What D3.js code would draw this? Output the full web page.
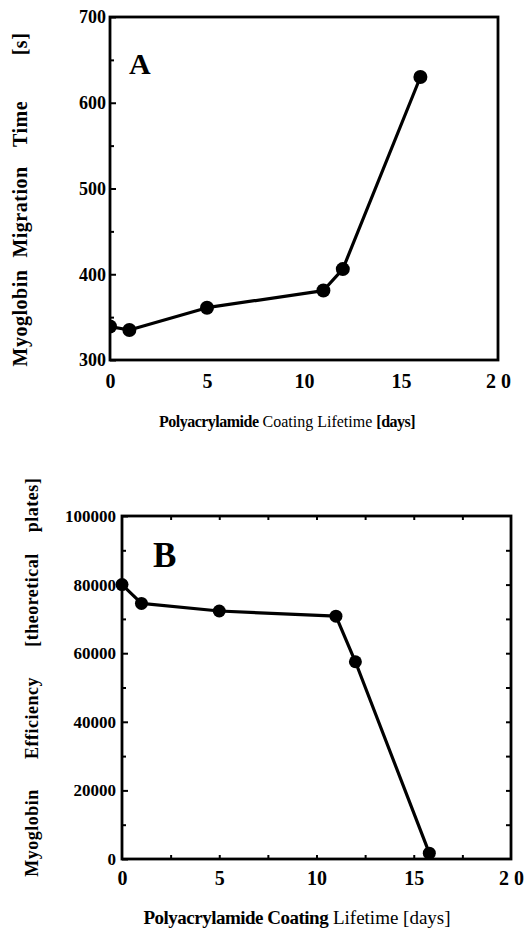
<!DOCTYPE html>
<html>
<head>
<meta charset="utf-8">
<script src="https://cdn.jsdelivr.net/npm/d3@7"></script>
<style>
  body { margin: 0; background: #fff; }
  svg { display: block; font-family: "Liberation Serif", "DejaVu Serif", serif; }
</style>
</head>
<body>
<div id="chart"></div>
<script>
// DATA
const daysA = [0, 1, 5, 11, 12, 16];
const timeA = [339, 335, 361, 381, 406, 630];
const daysB = [0, 1, 5, 11, 12, 15.8];
const effB = [80000, 74500, 72300, 70800, 57500, 1700];

const xTicks = [0, 5, 10, 15, 20];
const xTickLabels = ["0", "5", "10", "15", "2 0"];
const yTicksA = [300, 400, 500, 600, 700];
const yTicksB = [0, 20000, 40000, 60000, 80000, 100000];

// axis titles, one entry per printed word
const yTitleA = ["Myoglobin", "Migration", "Time", "[s]"];
const yTitleB = ["Myoglobin", "Efficiency", "[theoretical", "plates]"];

let width = 528;
let height = 930;

let svg = d3.select("#chart")
    .append("svg")
    .attr("width", width)
    .attr("height", height);

function tickGroup(g, axis, tr, len) {
    g.append("g")
        .attr("transform", tr)
        .call(axis.tickSize(len).tickFormat(""))
        .call(a => a.select(".domain").remove())
        .selectAll("line").attr("stroke-width", 2);
}

// DRAW ONE PANEL
function drawPanel(p) {
    let x = d3.scaleLinear().domain([0, 20]).range([p.left, p.right]);
    let y = d3.scaleLinear().domain(p.yDomain).range([p.bottom, p.top]);
    let g = svg.append("g");

    // clip for the data (panel A's first point is cut by the frame)
    let clipId = "clip" + p.letter;
    svg.append("clipPath").attr("id", clipId)
        .append("rect")
        .attr("x", p.clip ? p.left : 0).attr("y", 0)
        .attr("width", p.clip ? p.right - p.left : width).attr("height", height);

    // inward ticks
    tickGroup(g, d3.axisRight(y).tickValues(p.yTicks), "translate(" + p.left + ",0)", 6);
    tickGroup(g, d3.axisRight(y).tickValues(p.leftMinor), "translate(" + p.left + ",0)", 4);
    if (p.rightMinor) {
        tickGroup(g, d3.axisLeft(y).tickValues(p.rightMinor), "translate(" + p.right + ",0)", 5);
    }
    if (p.topMinor) {
        tickGroup(g, d3.axisBottom(x).tickValues(p.topMinor), "translate(0," + p.top + ")", 4);
        tickGroup(g, d3.axisTop(x).tickValues(p.topMinor), "translate(0," + p.bottom + ")", 4);
    }

    // frame
    g.append("rect")
        .attr("x", p.left).attr("y", p.top)
        .attr("width", p.right - p.left).attr("height", p.bottom - p.top)
        .attr("fill", "none").attr("stroke", "#000").attr("stroke-width", 2.8);

    // x tick labels
    g.append("g")
        .attr("transform", "translate(0," + p.bottom + ")")
        .call(d3.axisBottom(x).tickValues(xTicks).tickSize(0).tickPadding(p.xPad)
            .tickFormat((d, i) => xTickLabels[i]))
        .call(a => a.select(".domain").remove())
        .selectAll("text")
        .attr("font-family", "Liberation Serif")
        .attr("font-weight", "bold")
        .attr("font-size", 20)
        .attr("fill", "#000");

    // y tick labels
    g.append("g")
        .attr("transform", "translate(" + p.left + ",0)")
        .call(d3.axisLeft(y).tickValues(p.yTicks).tickSize(0).tickPadding(p.yPad)
            .tickFormat(d3.format("d")))
        .call(a => a.select(".domain").remove())
        .selectAll("text")
        .attr("font-family", "Liberation Serif")
        .attr("font-weight", "bold")
        .attr("font-size", p.yFont)
        .attr("fill", "#000");

    // data line and markers
    let pts = p.xs.map((d, i) => [d, p.ys[i]]);
    let dataG = g.append("g").attr("clip-path", "url(#" + clipId + ")");
    dataG.append("path")
        .datum(pts)
        .attr("fill", "none")
        .attr("stroke", "#000")
        .attr("stroke-width", 3.2)
        .attr("stroke-linejoin", "round")
        .attr("d", d3.line().x(d => x(d[0])).y(d => y(d[1])));

    dataG.selectAll(".dot")
        .data(pts)
        .enter()
        .append("circle")
        .attr("cx", d => x(d[0]))
        .attr("cy", d => y(d[1]))
        .attr("r", p.r)
        .attr("fill", "#000");

    // panel letter
    g.append("text")
        .attr("x", p.letterX).attr("y", p.letterY)
        .attr("font-family", "Liberation Serif")
        .attr("font-weight", "bold")
        .attr("font-size", p.letterSize)
        .text(p.letter);

    // y axis title, words spread along the axis as printed
    p.yTitle.forEach((w, i) => {
        g.append("text")
            .attr("transform", "translate(" + p.yTitleX + "," + p.yTitleCenters[i] + ") rotate(-90)")
            .attr("text-anchor", "middle")
            .attr("font-family", "Liberation Serif")
            .attr("font-weight", "bold")
            .attr("font-size", p.yTitleSize)
            .attr("letter-spacing", 0.5)
            .text(w);
    });

    // x axis title (mixed weights as printed)
    let xt = g.append("text")
        .attr("x", p.xTitleX).attr("y", p.xTitleY)
        .attr("text-anchor", "middle")
        .attr("font-family", "Liberation Serif")
        .attr("font-size", p.xTitleSize);
    p.xTitleParts.forEach(part => {
        xt.append("tspan")
            .attr("font-weight", part[1])
            .attr("letter-spacing", part[1] === "bold" ? -0.5 : 0)
            .text(part[0]);
    });
}

drawPanel({
    left: 110, right: 498, top: 17, bottom: 360, clip: true,
    yDomain: [300, 700], yTicks: yTicksA, yFont: 18, yPad: 4,
    leftMinor: [350, 450, 550, 650],
    xs: daysA, ys: timeA, r: 7, xPad: 14,
    letter: "A", letterX: 129, letterY: 74, letterSize: 30,
    yTitle: yTitleA, yTitleCenters: [318, 212, 124, 44], yTitleX: 27, yTitleSize: 20,
    xTitleX: 287, xTitleY: 427, xTitleSize: 16,
    xTitleParts: [["Polyacrylamide", "bold"], [" Coating Lifetime ", "normal"], ["[days]", "bold"]]
});

drawPanel({
    left: 122, right: 511, top: 516, bottom: 859, clip: false,
    yDomain: [0, 100000], yTicks: yTicksB, yFont: 17, yPad: 6,
    leftMinor: [10000, 30000, 50000, 70000, 90000],
    rightMinor: [10000, 20000, 30000, 40000, 50000, 60000, 70000, 80000, 90000],
    topMinor: [2.5, 5, 7.5, 10, 12.5, 15, 17.5],
    xs: daysB, ys: effB, r: 6.5, xPad: 12,
    letter: "B", letterX: 153, letterY: 567, letterSize: 35,
    yTitle: yTitleB, yTitleCenters: [833, 718, 600, 505], yTitleX: 38, yTitleSize: 18,
    xTitleX: 297, xTitleY: 924, xTitleSize: 19,
    xTitleParts: [["Polyacrylamide Coating", "bold"], [" Lifetime [days]", "normal"]]
});
</script>
</body>
</html>
